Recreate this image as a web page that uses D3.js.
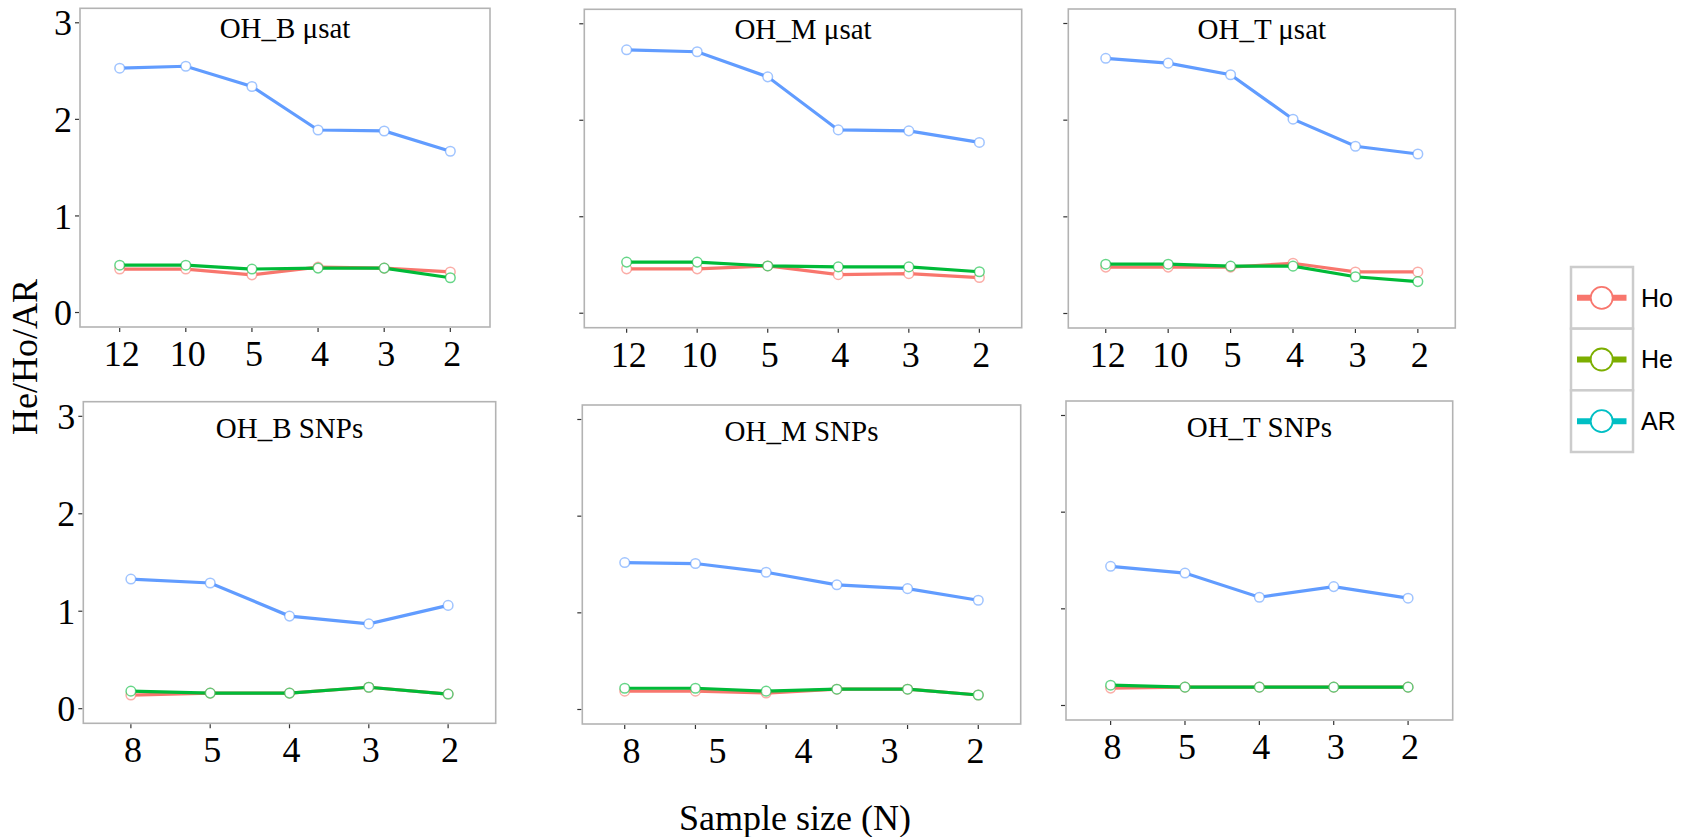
<!DOCTYPE html>
<html>
<head>
<meta charset="utf-8">
<script src="https://cdn.jsdelivr.net/npm/d3@7"></script>
<style>
  body { margin: 0; background: #fff; }
  svg text { font-family: "Liberation Serif", "Times New Roman", serif; fill: #000; }
  .legend text { font-family: "Liberation Sans", Arial, sans-serif; }
</style>
</head>
<body>
<div id="chart"></div>
<script>
var width = 1686, height = 837;

// sample sizes on the x axis
var usatN = ["12", "10", "5", "4", "3", "2"];
var snpN = ["8", "5", "4", "3", "2"];

var titles = ["OH_B μsat", "OH_M μsat", "OH_T μsat", "OH_B SNPs", "OH_M SNPs", "OH_T SNPs"];

// AR, Ho, He per panel
var arB_usat = [2.53, 2.55, 2.34, 1.89, 1.88, 1.67];
var hoB_usat = [0.45, 0.45, 0.39, 0.47, 0.46, 0.42];
var heB_usat = [0.49, 0.49, 0.45, 0.46, 0.46, 0.36];

var arM_usat = [2.73, 2.71, 2.45, 1.90, 1.89, 1.77];
var hoM_usat = [0.46, 0.46, 0.49, 0.40, 0.41, 0.37];
var heM_usat = [0.53, 0.53, 0.49, 0.48, 0.48, 0.43];

var arT_usat = [2.64, 2.59, 2.47, 2.01, 1.73, 1.65];
var hoT_usat = [0.48, 0.48, 0.48, 0.52, 0.43, 0.43];
var heT_usat = [0.51, 0.51, 0.49, 0.49, 0.38, 0.33];

var arB_snp = [1.33, 1.29, 0.95, 0.87, 1.06];
var hoB_snp = [0.14, 0.16, 0.16, 0.22, 0.15];
var heB_snp = [0.18, 0.16, 0.16, 0.22, 0.15];

// this panel has six points but only five labels
var arM_snp = [1.52, 1.51, 1.42, 1.29, 1.25, 1.13];
var hoM_snp = [0.19, 0.19, 0.17, 0.21, 0.21, 0.15];
var heM_snp = [0.22, 0.22, 0.19, 0.21, 0.21, 0.15];

var arT_snp = [1.44, 1.37, 1.12, 1.23, 1.11];
var hoT_snp = [0.18, 0.19, 0.19, 0.19, 0.19];
var heT_snp = [0.21, 0.19, 0.19, 0.19, 0.19];

var yTicks = [0, 1, 2, 3];
var legendKeys = ["Ho", "He", "AR"];
var legendColors = ["#F8766D", "#7CAE00", "#00BFC4"];

var lineColor = { Ho: "#F8766D", He: "#00BA38", AR: "#619CFF" };

var panelData = [
  { labels: usatN, ho: hoB_usat, he: heB_usat, ar: arB_usat },
  { labels: usatN, ho: hoM_usat, he: heM_usat, ar: arM_usat },
  { labels: usatN, ho: hoT_usat, he: heT_usat, ar: arT_usat },
  { labels: snpN, ho: hoB_snp, he: heB_snp, ar: arB_snp },
  { labels: snpN, ho: hoM_snp, he: heM_snp, ar: arM_snp, labelPad: 0.55 },
  { labels: snpN, ho: hoT_snp, he: heT_snp, ar: arT_snp }
];

// panel boxes [left, top, right, bottom]
var boxes = [
  [80, 8.3, 490, 327],
  [584.3, 9.3, 1021.7, 327.7],
  [1068.3, 9, 1455.3, 328],
  [83.3, 401.7, 495.7, 723.3],
  [582.3, 405, 1020.7, 724],
  [1066, 401, 1452.7, 720]
];

var svg = d3.select('#chart')
  .append('svg')
  .attr('width', width)
  .attr('height', height);

panelData.forEach(function(p, i) {
  var b = boxes[i];
  var g = svg.append('g');
  var n = p.ar.length;

  var x = d3.scalePoint()
    .domain(d3.range(n))
    .range([b[0], b[2]])
    .padding(0.6);
  var xl = d3.scalePoint()
    .domain(p.labels)
    .range([b[0], b[2]])
    .padding(p.labelPad || 0.6);
  var y = d3.scaleLinear()
    .domain([-0.15, 3.15])
    .range([b[3], b[1]]);

  g.append('rect')
    .attr('x', b[0]).attr('y', b[1])
    .attr('width', b[2] - b[0]).attr('height', b[3] - b[1])
    .attr('fill', '#fff')
    .attr('stroke', '#b3b3b3')
    .attr('stroke-width', 1.6);

  // tick marks
  g.selectAll('.xt')
    .data(x.domain())
    .enter().append('line')
    .attr('x1', function(d) { return x(d); })
    .attr('x2', function(d) { return x(d); })
    .attr('y1', b[3] + 1).attr('y2', b[3] + 5)
    .attr('stroke', '#333').attr('stroke-width', 1.2);
  g.selectAll('.yt')
    .data(yTicks)
    .enter().append('line')
    .attr('x1', b[0] - 5).attr('x2', b[0] - 1)
    .attr('y1', function(d) { return y(d); })
    .attr('y2', function(d) { return y(d); })
    .attr('stroke', '#333').attr('stroke-width', 1.2);

  g.selectAll('.xl')
    .data(p.labels)
    .enter().append('text')
    .attr('x', function(d) { return xl(d) + 2; })
    .attr('y', b[3] + 39)
    .attr('text-anchor', 'middle')
    .attr('font-size', 36)
    .text(function(d) { return d; });

  if (i % 3 === 0) {
    g.selectAll('.yl')
      .data(yTicks)
      .enter().append('text')
      .attr('x', b[0] - 8)
      .attr('y', function(d) { return y(d); })
      .attr('dy', '0.35em')
      .attr('text-anchor', 'end')
      .attr('font-size', 36)
      .text(function(d) { return d; });
  }

  g.append('text')
    .attr('x', (b[0] + b[2]) / 2)
    .attr('y', b[1] + (i < 3 ? 30 : 36))
    .attr('text-anchor', 'middle')
    .attr('font-size', 29)
    .text(titles[i]);

  var series = [
    { key: 'Ho', vals: p.ho },
    { key: 'He', vals: p.he },
    { key: 'AR', vals: p.ar }
  ];

  var line = d3.line()
    .x(function(d, j) { return x(j); })
    .y(function(d) { return y(d); });

  g.selectAll('.ln')
    .data(series)
    .enter().append('path')
    .attr('d', function(s) { return line(s.vals); })
    .attr('fill', 'none')
    .attr('stroke', function(s) { return lineColor[s.key]; })
    .attr('stroke-width', 3.2);

  series.forEach(function(s) {
    g.selectAll('.pt-' + s.key)
      .data(s.vals)
      .enter().append('circle')
      .attr('cx', function(d, j) { return x(j); })
      .attr('cy', function(d) { return y(d); })
      .attr('r', 4.8)
      .attr('fill', '#fff')
      .attr('stroke', lineColor[s.key])
      .attr('stroke-opacity', 0.6)
      .attr('stroke-width', 1.5);
  });
});

// axis titles
svg.append('text')
  .attr('transform', 'translate(24,357) rotate(-90)')
  .attr('text-anchor', 'middle')
  .attr('dy', '0.35em')
  .attr('font-size', 36)
  .text('He/Ho/AR');

svg.append('text')
  .attr('x', 795)
  .attr('y', 830)
  .attr('text-anchor', 'middle')
  .attr('font-size', 36)
  .text('Sample size (N)');

// legend
var lg = svg.append('g').attr('class', 'legend');
var keyY = d3.scaleBand()
  .domain(legendKeys)
  .range([267, 452]);

lg.selectAll('rect')
  .data(legendKeys)
  .enter().append('rect')
  .attr('x', 1571)
  .attr('y', function(d) { return keyY(d); })
  .attr('width', 62)
  .attr('height', keyY.bandwidth())
  .attr('fill', '#fff')
  .attr('stroke', '#cccccc')
  .attr('stroke-width', 2.5);

lg.selectAll('line')
  .data(legendKeys)
  .enter().append('line')
  .attr('x1', 1577).attr('x2', 1626.5)
  .attr('y1', function(d) { return keyY(d) + keyY.bandwidth() / 2; })
  .attr('y2', function(d) { return keyY(d) + keyY.bandwidth() / 2; })
  .attr('stroke', function(d, i) { return legendColors[i]; })
  .attr('stroke-width', 6);

lg.selectAll('circle')
  .data(legendKeys)
  .enter().append('circle')
  .attr('cx', 1601.7)
  .attr('cy', function(d) { return keyY(d) + keyY.bandwidth() / 2; })
  .attr('r', 11)
  .attr('fill', '#fff')
  .attr('stroke', function(d, i) { return legendColors[i]; })
  .attr('stroke-width', 1.8);

lg.selectAll('text')
  .data(legendKeys)
  .enter().append('text')
  .attr('x', 1641)
  .attr('y', function(d) { return keyY(d) + keyY.bandwidth() / 2; })
  .attr('dy', '0.35em')
  .attr('font-size', 25)
  .text(function(d) { return d; });
</script>
</body>
</html>
